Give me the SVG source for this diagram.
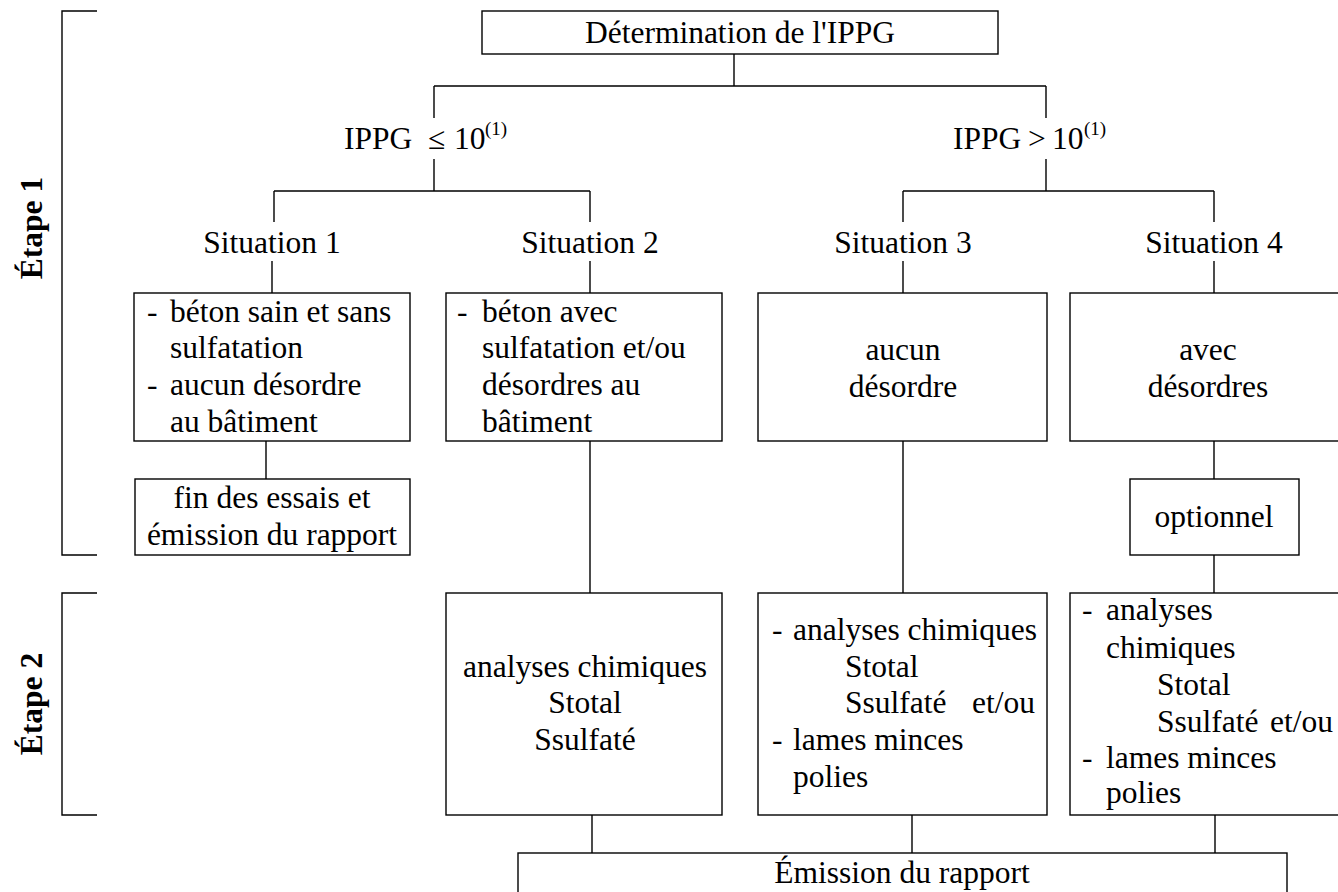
<svg xmlns="http://www.w3.org/2000/svg" width="1338" height="892" viewBox="0 0 1338 892">
<style>
text{font-family:'Liberation Serif','Times New Roman',serif;font-size:31.5px;fill:#000}
.c{text-anchor:middle}
.b{font-weight:bold}
.sup{font-size:19px}
.box{fill:#fff;stroke:#000;stroke-width:1.4}
.ln{fill:none;stroke:#000;stroke-width:1.4}
</style>
<rect width="1338" height="892" fill="#fff"/>
<g id="connectors">
<path class="ln" d="M734,54V86M434,86H1046M434,86V118M1046,86V118"/>
<path class="ln" d="M434,159V191M274,191H590M1046,159V191M903,191H1214"/>
<path class="ln" d="M274,191V222M590,191V222M903,191V222M1214,191V222"/>
<path class="ln" d="M272,261V293M590,261V293M903,261V293M1214,261V293"/>
<path class="ln" d="M266,441V479M590,441V593M903,441V593M1214,441V479M1214,555V593"/>
<path class="ln" d="M592,815V853M912,815V853M1215,815V853"/>
</g>
<g id="brackets">
<path class="ln" d="M97,11H62V555H97"/>
<path class="ln" d="M97,593H62V815H97"/>
<text class="b c" transform="translate(42,228) rotate(-90)">Étape 1</text>
<text class="b c" transform="translate(42,704) rotate(-90)">Étape 2</text>
</g>
<g id="n-ippg">
<rect class="box" x="482" y="11" width="516" height="43"/>
<text class="c" x="740" y="43">Détermination de l'IPPG</text>
</g>
<g id="n-le10">
<text y="149"><tspan x="344">IPPG</tspan><tspan x="428">≤</tspan><tspan x="454">10</tspan><tspan class="sup" x="485" y="135">(1)</tspan></text>
</g>
<g id="n-gt10">
<text y="149"><tspan x="953">IPPG</tspan><tspan x="1028">&gt;</tspan><tspan x="1052">10</tspan><tspan class="sup" x="1084" y="135">(1)</tspan></text>
</g>
<g id="n-sit1"><text class="c" x="272" y="253">Situation 1</text></g>
<g id="n-sit2"><text class="c" x="590" y="253">Situation 2</text></g>
<g id="n-sit3"><text class="c" x="903" y="253">Situation 3</text></g>
<g id="n-sit4"><text class="c" x="1214" y="253">Situation 4</text></g>
<g id="n-b1">
<rect class="box" x="134" y="293" width="276" height="148"/>
<text><tspan x="147" y="322">-</tspan><tspan x="170" y="322">béton sain et sans</tspan><tspan x="170" y="358">sulfatation</tspan><tspan x="147" y="395">-</tspan><tspan x="170" y="395">aucun désordre</tspan><tspan x="170" y="432">au bâtiment</tspan></text>
</g>
<g id="n-b2">
<rect class="box" x="446" y="293" width="276" height="148"/>
<text><tspan x="457" y="322">-</tspan><tspan x="482" y="322">béton avec</tspan><tspan x="482" y="358">sulfatation et/ou</tspan><tspan x="482" y="395">désordres au</tspan><tspan x="482" y="432">bâtiment</tspan></text>
</g>
<g id="n-b3">
<rect class="box" x="758" y="293" width="289" height="148"/>
<text class="c"><tspan x="903" y="360">aucun</tspan><tspan x="903" y="397">désordre</tspan></text>
</g>
<g id="n-b4">
<rect class="box" x="1070" y="293" width="278" height="148"/>
<text class="c"><tspan x="1208" y="360">avec</tspan><tspan x="1208" y="397">désordres</tspan></text>
</g>
<g id="n-fin">
<rect class="box" x="135" y="479" width="275" height="76"/>
<text class="c"><tspan x="272" y="508">fin des essais et</tspan><tspan x="272" y="545">émission du rapport</tspan></text>
</g>
<g id="n-opt">
<rect class="box" x="1130" y="479" width="169" height="76"/>
<text class="c" x="1214" y="527">optionnel</text>
</g>
<g id="n-a2">
<rect class="box" x="446" y="593" width="276" height="222"/>
<text class="c"><tspan x="585" y="677">analyses chimiques</tspan><tspan x="585" y="713">Stotal</tspan><tspan x="585" y="750">Ssulfaté</tspan></text>
</g>
<g id="n-a3">
<rect class="box" x="758" y="593" width="289" height="222"/>
<text><tspan x="772" y="640">-</tspan><tspan x="793" y="640">analyses chimiques</tspan><tspan x="845" y="677">Stotal</tspan><tspan x="845" y="713">Ssulfaté</tspan><tspan x="972" y="713">et/ou</tspan><tspan x="772" y="750">-</tspan><tspan x="793" y="750">lames minces</tspan><tspan x="793" y="787">polies</tspan></text>
</g>
<g id="n-a4">
<rect class="box" x="1070" y="593" width="278" height="222"/>
<text><tspan x="1082" y="620">-</tspan><tspan x="1106" y="620">analyses</tspan><tspan x="1106" y="658">chimiques</tspan><tspan x="1157" y="695">Stotal</tspan><tspan x="1157" y="732">Ssulfaté</tspan><tspan x="1270" y="732">et/ou</tspan><tspan x="1082" y="768">-</tspan><tspan x="1106" y="768">lames minces</tspan><tspan x="1106" y="803">polies</tspan></text>
</g>
<g id="n-emission">
<rect class="box" x="518" y="853" width="769" height="60"/>
<text class="c" x="902" y="883">Émission du rapport</text>
</g>
</svg>
